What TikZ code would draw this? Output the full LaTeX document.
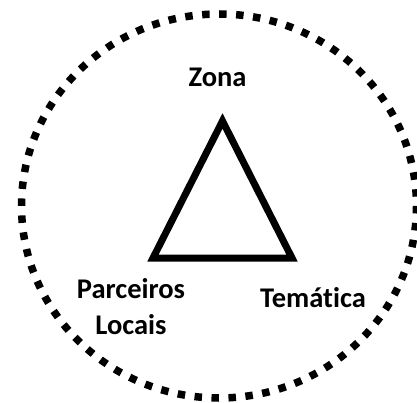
\documentclass[tikz,border=0pt]{standalone}
\usepackage{fontspec}
\setmainfont[Ligatures=NoCommon]{Carlito}
\begin{document}
\begin{tikzpicture}[x=1pt,y=-1pt,
  lbl/.style={font=\fontsize{28.5}{36}\selectfont\bfseries, inner sep=0pt, text=black},
  dotring/.style={line width=7.5pt, dash pattern=on 7.5pt off 9.5pt, line cap=butt},
  tri/.style={line width=7pt, line join=miter}]
\useasboundingbox (0,0) rectangle (417,403);
\fill[white] (0,0) rectangle (417,403);
\clip (0,0) rectangle (417,403);
% dotted outer ring
\draw[dotring] (219,206) ellipse [x radius=197.5, y radius=192];
% triangle
\coordinate (A) at (222.5,121);
\coordinate (B) at (153,258);
\coordinate (C) at (292,258);
\draw[tri] (A) -- (B) -- (C) -- cycle;
% labels
\node[lbl, anchor=base] (zona) at (217.5,87) {Zona};
\node[lbl, anchor=north, align=center] (parc) at (131,278.5) {Parceiros\\Locais};
\node[lbl, anchor=base] (tema) at (313,307) {Temática};
\end{tikzpicture}
\end{document}
